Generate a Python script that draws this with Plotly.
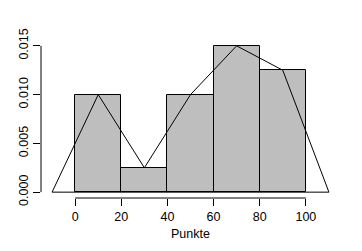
import plotly.graph_objects as go

bin_centers = [10, 30, 50, 70, 90]
densities = [0.010, 0.0025, 0.010, 0.015, 0.0125]
poly_x = [-10, 10, 30, 50, 70, 90, 110]
poly_y = [0, 0.010, 0.0025, 0.010, 0.015, 0.0125, 0]
x_ticks = [0, 20, 40, 60, 80, 100]
y_ticks = [0, 0.005, 0.010, 0.015]

fig = go.Figure()
fig.add_trace(go.Bar(x=bin_centers, y=densities, width=20,
                     marker=dict(color="#BEBEBE", line=dict(color="black", width=1)),
                     showlegend=False))
# closed polygon (R polygon() closes back to the first vertex)
fig.add_trace(go.Scatter(x=poly_x + [poly_x[0]], y=poly_y + [poly_y[0]], mode="lines",
                         line=dict(color="black", width=1), showlegend=False))

fnt = dict(family="Liberation Sans, Arial, sans-serif", size=12.5, color="black")
fig.update_layout(
    width=362, height=251, autosize=False,
    margin=dict(l=41, r=22, t=40, b=51, pad=0),
    paper_bgcolor="white", plot_bgcolor="white",
    font=fnt,
    bargap=0,
    xaxis=dict(range=[-14.8, 114.8], tickvals=x_ticks, ticks="outside", ticklen=7,
               tickcolor="black", showgrid=False, zeroline=False, showline=False,
               tickfont=fnt, title=dict(text="Punkte", standoff=6, font=fnt)),
    yaxis=dict(range=[-0.0006, 0.0156], tickvals=y_ticks, tickformat=".3f",
               ticks="outside", ticklen=7, tickcolor="black", tickangle=-90,
               tickfont=fnt, showgrid=False, zeroline=False, showline=False),
)
fig.add_shape(type="line", xref="x", yref="paper", x0=0, x1=100, y0=0, y1=0,
              line=dict(color="black", width=1))
fig.add_shape(type="line", xref="paper", yref="y", x0=0, x1=0, y0=0, y1=0.015,
              line=dict(color="black", width=1))
fig.write_html("out.html")
